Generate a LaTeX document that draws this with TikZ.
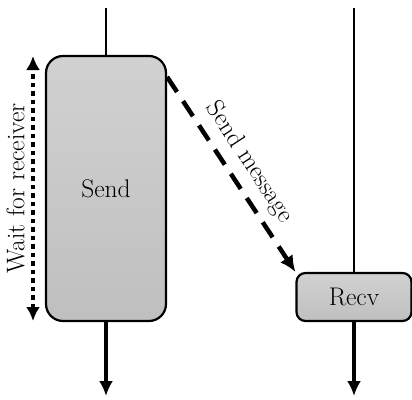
\documentclass[tikz,border=0pt]{standalone}
\usepackage{fontspec}
\usetikzlibrary{arrows.meta}
\begin{document}
\begin{tikzpicture}[x=1pt,y=-1pt,
  every node/.style={font=\fontsize{25.5}{30}\selectfont},
  block/.style={draw=black,line width=2.2pt,top color=gray!36,bottom color=gray!50,inner sep=0pt},
  thinline/.style={line width=2pt},
  thickarrow/.style={line width=4pt,-{Latex[length=15pt,width=14pt]}},
  dashedarrow/.style={line width=4.5pt,dash pattern=on 18pt off 11pt,-{Latex[length=16pt,width=15pt]}},
  dottedarrow/.style={line width=4.5pt,dash pattern=on 4.5pt off 4pt,{Latex[length=14pt,width=14pt]}-{Latex[length=14pt,width=14pt]}}]
\useasboundingbox (0,0) rectangle (412,399);
\node[block,rounded corners=17pt,minimum width=120pt,minimum height=265pt] (send) at (106,188.5) {Send};
\node[block,rounded corners=9pt,minimum width=115pt,minimum height=48pt] (recv) at (354,297) {Recv};
\coordinate (sendtop) at (106,8);
\coordinate (recvtop) at (354,8);
\coordinate (sendbot) at (106,396);
\coordinate (recvbot) at (354,396);
\coordinate (waittop) at (33,56);
\coordinate (waitbot) at (33,321);
\draw[thinline] (sendtop) -- (send.north);
\draw[thinline] (recvtop) -- (recv.north);
\draw[thickarrow] (send.south) -- (sendbot);
\draw[thickarrow] (recv.south) -- (recvbot);
\draw[dashedarrow] ([yshift=-22pt]send.north east) -- node[midway,above,sloped,inner sep=8pt] (msg) {Send message} (recv.north west);
\draw[dottedarrow] (waitbot) -- node[midway,above,sloped,inner sep=6pt] (wait) {Wait for receiver} (waittop);
\end{tikzpicture}
\end{document}
